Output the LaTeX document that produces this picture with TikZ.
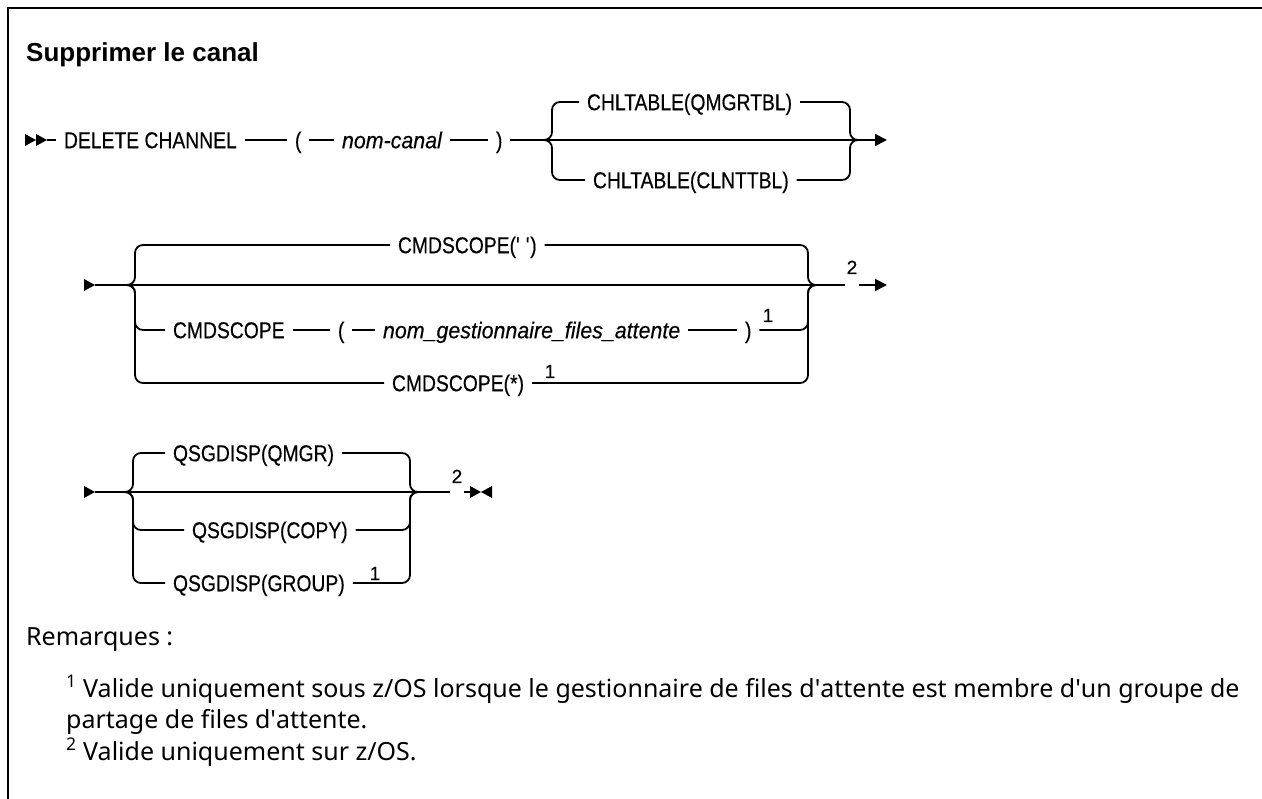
\documentclass[tikz,border=0pt]{standalone}
\usepackage{fontspec}
\setmainfont{Liberation Sans}
\newfontfamily\railfont{Liberation Sans}[FakeStretch=0.84, FakeBold=0.4]
\newfontfamily\railitfont{Liberation Sans}[FakeStretch=0.93, FakeBold=0.4]
\newfontfamily\markfont{Liberation Sans}[FakeBold=0.5]
\newfontfamily\notefont{Noto Sans}
\usetikzlibrary{arrows.meta}

\tikzset{
  rail/.style={line width=1.8pt},
  kw/.style={font=\railfont\fontsize{23}{26}\selectfont, inner sep=0pt, outer xsep=8pt,
    text height=16.5pt, text depth=0pt, anchor=west},
  var/.style={kw, font=\railitfont\itshape\fontsize{23}{26}\selectfont},
  fnmark/.style={font=\markfont\fontsize{19}{21}\selectfont, inner sep=0pt, outer xsep=2pt, anchor=base},
  notetext/.style={font=\notefont\fontsize{25}{30}\selectfont, inner sep=0pt, anchor=base west},
  endtip/.style={-{Triangle[length=12pt,width=12pt]}},
  railtip/.pic={\fill (0,-6) -- (11,0) -- (0,6) -- cycle;},
}

\begin{document}
\begin{tikzpicture}[x=1pt,y=-1pt]
  \useasboundingbox (0,0) rectangle (1262,799);

  % cadre
  \draw[line width=2.5pt] (8,799) -- (8,8) -- (1262,8);
  \node[font=\bfseries\fontsize{26}{30}\selectfont, inner sep=0pt, anchor=base west]
    (titre) at (26,62) {Supprimer le canal};

  % DELETE CHANNEL
  \coordinate (s1) at (25,140);
  \pic at (s1) {railtip};
  \pic at ([xshift=11pt]s1) {railtip};
  \node[kw] (del) at (56,140) {DELETE CHANNEL};
  \node[kw] (lp1) at (287,140) {(};
  \node[var] (canal) at (334,140) {nom-canal};
  \node[kw] (rp1) at (488,140) {)};
  \node[kw] (qmgrtbl) at (579,102) {CHLTABLE(QMGRTBL)};
  \node[kw] (clnttbl) at (585,180) {CHLTABLE(CLNTTBL)};
  \coordinate (b1l) at (552,140);
  \coordinate (b1r) at (850,140);
  \coordinate (e1) at (887,140);

  \draw[rail] ([xshift=22pt]s1) -- (del.west);
  \draw[rail] (del.east) -- (lp1.west);
  \draw[rail] (lp1.east) -- (canal.west);
  \draw[rail] (canal.east) -- (rp1.west);
  \draw[rail, endtip] (rp1.east) -- (e1);
  \foreach \alt in {qmgrtbl, clnttbl} {
    \draw[rail, rounded corners=8pt] ([xshift=-12pt]b1l) -- (b1l) |- (\alt.west);
    \draw[rail, rounded corners=8pt] (\alt.east) -| (b1r) -- ([xshift=12pt]b1r);
  }

  % CMDSCOPE
  \coordinate (s2) at (84,285);
  \pic at (s2) {railtip};
  \node[kw] (cmd1) at (390,245) {CMDSCOPE(\textquotesingle\ \textquotesingle)};
  \node[kw] (cmd2) at (165,330) {CMDSCOPE};
  \node[kw] (lp2) at (330,330) {(};
  \node[var] (qmname) at (375,330) {nom\_gestionnaire\_files\_attente};
  \node[kw] (rp2) at (737,330) {)};
  \node[kw] (cmd3) at (384,383) {CMDSCOPE(*)};
  \node[fnmark] (fa) at (768,322) {1};
  \node[fnmark] (fb) at (550,378) {1};
  \node[fnmark] (fc) at (852,274) {2};
  \coordinate (b2l) at (135,285);
  \coordinate (b2r) at (808,285);
  \coordinate (e2) at (887,285);

  \draw[rail] ([xshift=11pt]s2) -- (fc.west |- b2l);
  \draw[rail, endtip] (fc.east |- b2l) -- (e2);
  \draw[rail] (cmd2.east) -- (lp2.west);
  \draw[rail] (lp2.east) -- (qmname.west);
  \draw[rail] (qmname.east) -- (rp2.west);
  \foreach \first/\last in {cmd1/cmd1, cmd2/rp2, cmd3/cmd3} {
    \draw[rail, rounded corners=8pt] ([xshift=-12pt]b2l) -- (b2l) |- (\first.west);
    \draw[rail, rounded corners=8pt] (\last.east) -| (b2r) -- ([xshift=12pt]b2r);
  }

  % QSGDISP
  \coordinate (s3) at (84,492);
  \pic at (s3) {railtip};
  \node[kw] (qmgr) at (165,453) {QSGDISP(QMGR)};
  \node[kw] (copy) at (184,530) {QSGDISP(COPY)};
  \node[kw] (group) at (165,583) {QSGDISP(GROUP)};
  \node[fnmark] (fd) at (375,580) {1};
  \node[fnmark] (fe) at (457,483) {2};
  \coordinate (b3l) at (133,492);
  \coordinate (b3r) at (410,492);
  \coordinate (e3) at (470,492);

  \draw[rail] ([xshift=11pt]s3) -- (fe.west |- b3l);
  \draw[rail] (fe.east |- b3l) -- (e3);
  \pic at (e3) {railtip};
  \pic[xscale=-1] at ([xshift=22pt]e3) {railtip};
  \foreach \alt in {qmgr, copy, group} {
    \draw[rail, rounded corners=8pt] ([xshift=-12pt]b3l) -- (b3l) |- (\alt.west);
    \draw[rail, rounded corners=8pt] (\alt.east) -| (b3r) -- ([xshift=12pt]b3r);
  }

  % remarques
  \node[notetext] (rem) at (26,645) {Remarques :};
  \node[notetext] (n1) at (66,697) {\textsuperscript{1} Valide uniquement sous z/OS lorsque le gestionnaire de files d\textquotesingle attente est membre d\textquotesingle un groupe de};
  \node[notetext] (n1b) at (66,728) {partage de files d\textquotesingle attente.};
  \node[notetext] (n2) at (66,760) {\textsuperscript{2} Valide uniquement sur z/OS.};
\end{tikzpicture}
\end{document}
